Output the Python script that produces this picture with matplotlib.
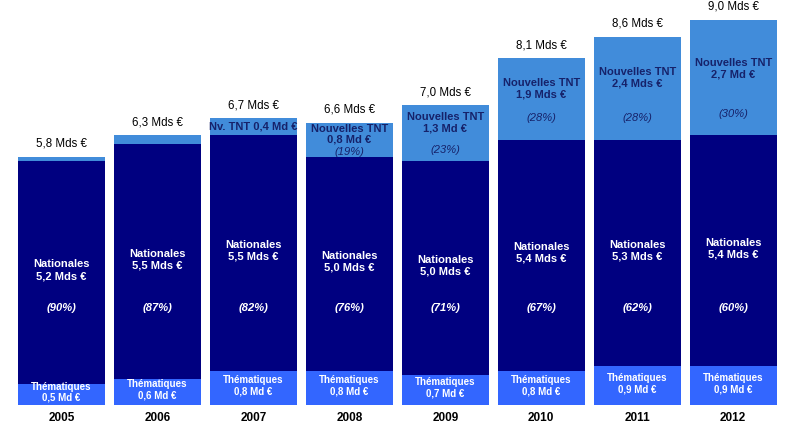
import matplotlib.pyplot as plt

plt.rcParams['font.family'] = ['Liberation Sans', 'DejaVu Sans']

years = ['2005', '2006', '2007', '2008', '2009', '2010', '2011', '2012']
thematiques = [0.5, 0.6, 0.8, 0.8, 0.7, 0.8, 0.9, 0.9]
nationales = [5.2, 5.5, 5.5, 5.0, 5.0, 5.4, 5.3, 5.4]
nouvelles_tnt = [0.1, 0.2, 0.4, 0.8, 1.3, 1.9, 2.4, 2.7]

total_labels = ['5,8 Mds €', '6,3 Mds €', '6,7 Mds €', '6,6 Mds €',
                '7,0 Mds €', '8,1 Mds €', '8,6 Mds €', '9,0 Mds €']
them_labels = ['0,5 Md €', '0,6 Md €', '0,8 Md €', '0,8 Md €',
               '0,7 Md €', '0,8 Md €', '0,9 Md €', '0,9 Md €']
nat_labels = ['5,2 Mds €', '5,5 Mds €', '5,5 Mds €', '5,0 Mds €',
              '5,0 Mds €', '5,4 Mds €', '5,3 Mds €', '5,4 Mds €']
nat_pct = ['(90%)', '(87%)', '(82%)', '(76%)', '(71%)', '(67%)', '(62%)', '(60%)']
tnt_labels = ['', '', 'Nv. TNT 0,4 Md €', 'Nouvelles TNT\n0,8 Md €',
              'Nouvelles TNT\n1,3 Md €', 'Nouvelles TNT\n1,9 Mds €',
              'Nouvelles TNT\n2,4 Mds €', 'Nouvelles TNT\n2,7 Md €']
tnt_pct = ['', '', '', '(19%)', '(23%)', '(28%)', '(28%)', '(30%)']

c_them = '#3366ff'
c_nat = '#000080'
c_tnt = '#418cda'
c_tnt_txt = '#16226a'

fig = plt.figure(figsize=(7.93, 4.33), dpi=100)
ax = fig.add_axes([0.017, 0.0647, 0.968, 0.919])

x = range(len(years))
w = 0.906
bot_nat = thematiques
bot_tnt = [a + b for a, b in zip(thematiques, nationales)]
totals = [a + b for a, b in zip(bot_tnt, nouvelles_tnt)]

ax.bar(x, thematiques, w, color=c_them)
ax.bar(x, nationales, w, bottom=bot_nat, color=c_nat)
ax.bar(x, nouvelles_tnt, w, bottom=bot_tnt, color=c_tnt)

for i in x:
    # total au dessus
    ax.annotate(total_labels[i], (i, totals[i]), xytext=(0, 9.5),
                textcoords='offset points', ha='center', va='center',
                fontsize=8.3, color='black')
    # thematiques
    ax.text(i, thematiques[i] / 2 + 0.05, 'Thématiques\n' + them_labels[i],
            ha='center', va='center', fontsize=7, color='white',
            fontweight='bold', linespacing=1.15)
    # nationales
    mid = bot_nat[i] + nationales[i] / 2
    ax.text(i, mid + 0.05, 'Nationales\n' + nat_labels[i], ha='center', va='center',
            fontsize=8, color='white', fontweight='bold', linespacing=1.2)
    ax.text(i, 2.27, nat_pct[i], ha='center', va='center', fontsize=8,
            color='white', fontweight='bold', style='italic')
    # nouvelles tnt
    h = nouvelles_tnt[i]
    mid = bot_tnt[i] + h / 2
    if tnt_labels[i] == '':
        continue
    if h < 0.5:
        ax.text(i, mid, tnt_labels[i], ha='center', va='center', fontsize=8,
                color=c_tnt_txt, fontweight='bold')
    elif h < 1.0:
        ax.text(i, mid + 0.12, tnt_labels[i], ha='center', va='center',
                fontsize=8, color=c_tnt_txt, fontweight='bold', linespacing=1.1)
        ax.text(i, mid - 0.28, tnt_pct[i], ha='center', va='center',
                fontsize=8, color=c_tnt_txt, style='italic')
    else:
        ax.text(i, min(mid + 0.25, bot_tnt[i] + 1.55), tnt_labels[i],
                ha='center', va='center', fontsize=8, color=c_tnt_txt,
                fontweight='bold', linespacing=1.2)
        ax.text(i, min(mid - 0.4, bot_tnt[i] + 0.5), tnt_pct[i], ha='center',
                va='center', fontsize=8, color=c_tnt_txt, style='italic')

ax.set_xlim(-0.5, len(years) - 0.5)
ax.set_ylim(0, 9.3)
ax.set_xticks(list(x))
ax.set_xticklabels(years, fontsize=8.5, fontweight='bold')
ax.tick_params(axis='x', length=0, pad=5)
ax.set_yticks([])
for s in ax.spines.values():
    s.set_visible(False)

fig.savefig('out.png', dpi=100)
